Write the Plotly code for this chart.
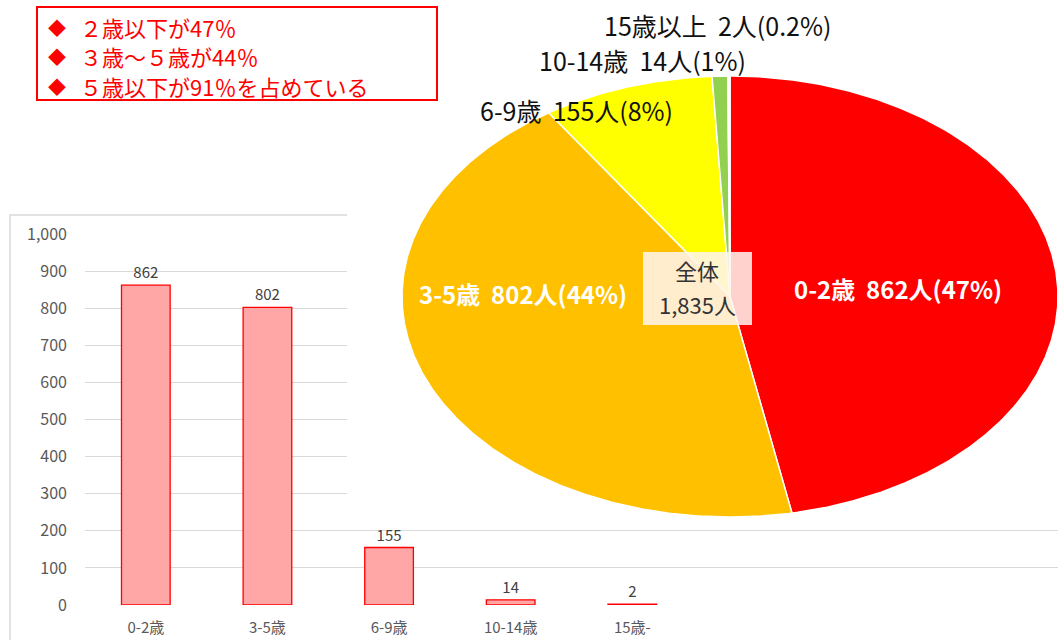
import numpy as np
import plotly.graph_objects as go

# ---- data ----
ages = ["0-2歳", "3-5歳", "6-9歳", "10-14歳", "15歳-"]
counts = [862, 802, 155, 14, 2]
pie_names = ["0-2歳", "3-5歳", "6-9歳", "10-14歳", "15歳以上"]
pie_pcts = ["47%", "44%", "8%", "1%", "0.2%"]
y_ticks = list(range(0, 1001, 100))
notes = ["２歳以下が47％", "３歳～５歳が44％", "５歳以下が91％を占めている"]

# ---- styling ----
W, H = 1061, 640
FONT = "Noto Sans CJK JP"
pie_colors = ["#ff0000", "#ffc000", "#ffff00", "#92d050", "#fbfbfb"]
label_pos = [(898, 288), (523, 293), (576, 110), (642, 60), (717, 25)]
label_white = [True, True, False, False, False]

fig = go.Figure()

# bar chart of counts by age group
fig.add_trace(go.Bar(
    x=ages, y=counts, text=[f"{v}" for v in counts], textposition="outside",
    width=0.4, cliponaxis=False, hoverinfo="skip",
    marker=dict(color="#ffa6a6", line=dict(color="#ff0000", width=1.3)),
    textfont=dict(family=FONT, size=15, color="#404040"),
    xaxis="x", yaxis="y", showlegend=False,
))

# elliptical pie drawn as filled wedges, clockwise from 12 o'clock
cx, cy, rx, ry = 730, 296.5, 328, 220.5
total = sum(counts)
edges = np.concatenate([[0], np.cumsum(counts)]) / total * 2 * np.pi
for i, v in enumerate(counts):
    n = max(3, int((edges[i + 1] - edges[i]) / (2 * np.pi) * 720))
    t = np.linspace(edges[i], edges[i + 1], n)
    xs = np.concatenate([[cx], cx + rx * np.sin(t), [cx]])
    ys = np.concatenate([[cy], cy - ry * np.cos(t), [cy]])
    fig.add_trace(go.Scatter(
        x=xs, y=ys, mode="lines", fill="toself", fillcolor=pie_colors[i],
        line=dict(color="#ffffff", width=1.5), hoverinfo="skip",
        xaxis="x2", yaxis="y2", showlegend=False,
    ))

annotations = []
for i, v in enumerate(counts):
    white = label_white[i]
    annotations.append(dict(
        xref="x2", yref="y2", x=label_pos[i][0], y=label_pos[i][1],
        text=f"{pie_names[i]}  {v}人({pie_pcts[i]})", showarrow=False,
        xanchor="center", yanchor="middle",
        font=dict(family=FONT, size=24 if white else 25,
                  color="#ffffff" if white else "#111111",
                  weight="bold" if white else "normal"),
    ))

# total in the middle of the pie
annotations.append(dict(
    xref="x2", yref="y2", x=697, y=270, text="全体",
    showarrow=False, xanchor="center", yanchor="middle",
    font=dict(family=FONT, size=22, color="#333333"),
))
annotations.append(dict(
    xref="x2", yref="y2", x=697, y=304, text=f"{total:,}人",
    showarrow=False, xanchor="center", yanchor="middle",
    font=dict(family=FONT, size=22, color="#333333"),
))

# key points box
for k, line in enumerate(notes):
    yy = 1 - (27 + 29.5 * k) / H
    annotations.append(dict(xref="paper", yref="paper", x=46 / W, y=yy,
                            text="◆", showarrow=False, xanchor="left", yanchor="middle",
                            font=dict(family=FONT, size=18, color="#ff0000")))
    annotations.append(dict(xref="paper", yref="paper", x=78 / W, y=yy,
                            text=line, showarrow=False, xanchor="left", yanchor="middle",
                            font=dict(family=FONT, size=22, color="#ff0000")))

shapes = [
    # frame of the bar chart
    dict(type="rect", xref="paper", yref="paper", x0=10 / W, x1=1.05,
         y0=-0.05, y1=1 - 215 / H, line=dict(color="#d9d9d9", width=1.5),
         fillcolor="rgba(0,0,0,0)", layer="below"),
    # white backdrop behind the pie
    dict(type="rect", xref="x2", yref="y2", x0=347, x1=W + 5, y0=-5, y1=522,
         line=dict(width=0), fillcolor="#ffffff", layer="below"),
    # centre label panel
    dict(type="rect", xref="x2", yref="y2", x0=643, x1=752, y0=252, y1=325,
         line=dict(width=0), fillcolor="rgba(255,244,240,0.86)", layer="above"),
    # key points box
    dict(type="rect", xref="paper", yref="paper", x0=37 / W, x1=437 / W,
         y0=1 - 100 / H, y1=1 - 7 / H, line=dict(color="#ff0000", width=2),
         fillcolor="#ffffff", layer="above"),
]

fig.update_layout(
    width=W, height=H, margin=dict(l=0, r=0, t=0, b=0, pad=0, autoexpand=False),
    paper_bgcolor="#ffffff", plot_bgcolor="rgba(0,0,0,0)",
    font=dict(family=FONT),
    annotations=annotations, shapes=shapes, bargap=0.6,
    xaxis=dict(domain=[85 / W, 1058 / W], type="category", range=[-0.5, 7.5],
               showgrid=False, zeroline=False, showline=False, ticks="",
               tickfont=dict(family=FONT, size=15, color="#595959"),
               ticklabelstandoff=12, fixedrange=True, automargin=False),
    yaxis=dict(domain=[(H - 605) / H, (H - 234) / H], range=[0, 1000],
               tickvals=y_ticks, tickformat=",d", showgrid=True,
               gridcolor="#d9d9d9", gridwidth=1, zeroline=False, showline=False,
               ticks="", tickfont=dict(family=FONT, size=16, color="#595959"),
               ticklabelstandoff=17, fixedrange=True, automargin=False),
    xaxis2=dict(domain=[0, 1], range=[0, W], visible=False, anchor="y2",
                fixedrange=True, automargin=False),
    yaxis2=dict(domain=[0, 1], range=[H, 0], visible=False, anchor="x2",
                fixedrange=True, automargin=False),
)

fig.write_html("out.html")
